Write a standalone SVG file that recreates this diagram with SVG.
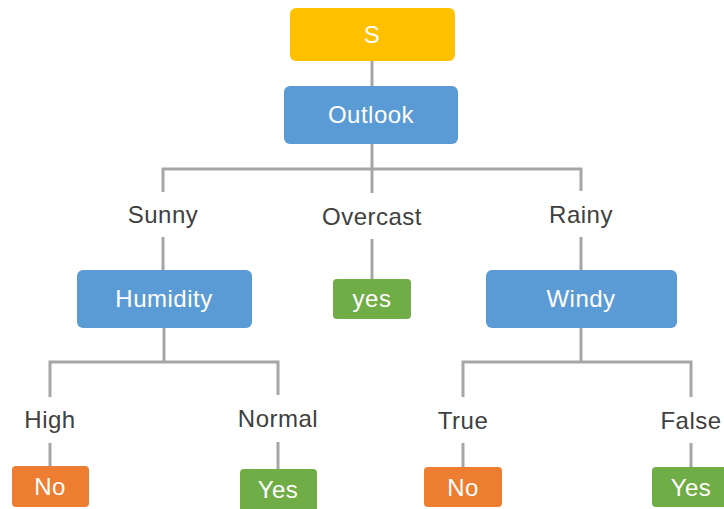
<svg xmlns="http://www.w3.org/2000/svg" width="724" height="509" viewBox="0 0 724 509">
<style>
.ln{stroke:#A6A6A6;stroke-width:3;fill:none}
.lbl{font-family:"Liberation Sans",Arial,sans-serif;font-size:24px;fill:#404040;text-anchor:middle;letter-spacing:0.5px}
.bt{font-family:"Liberation Sans",Arial,sans-serif;font-size:24px;fill:#FFFFFF;text-anchor:middle;letter-spacing:0.5px}
.yel{fill:#FFC000}.blu{fill:#5B9BD5}.grn{fill:#70AD47}.org{fill:#ED7D31}
</style>
<rect width="724" height="509" fill="#FFFFFF"/>
<g id="connectors">
<path class="ln" d="M372 61V86"/>
<path class="ln" d="M372 144V193"/>
<path class="ln" d="M163 192V169H581V191"/>
<path class="ln" d="M163 237V270"/>
<path class="ln" d="M372 239V279"/>
<path class="ln" d="M581 237V270"/>
<path class="ln" d="M164 328V362"/>
<path class="ln" d="M50 397V362H278V395"/>
<path class="ln" d="M50 443V466"/>
<path class="ln" d="M278 442V469"/>
<path class="ln" d="M581 328V362"/>
<path class="ln" d="M463 397V362H691V397"/>
<path class="ln" d="M463 443V467"/>
<path class="ln" d="M691 443V467"/>
</g>
<g id="S"><rect class="yel" x="290" y="8" width="165" height="53" rx="6"/><text class="bt" x="372" y="43">S</text></g>
<g id="outlook"><rect class="blu" x="284" y="86" width="174" height="58" rx="6"/><text class="bt" x="371" y="123">Outlook</text></g>
<g id="sunny"><text class="lbl" x="163" y="223">Sunny</text></g>
<g id="overcast"><text class="lbl" x="372" y="225">Overcast</text></g>
<g id="rainy"><text class="lbl" x="581" y="223">Rainy</text></g>
<g id="humidity"><rect class="blu" x="77" y="270" width="175" height="58" rx="6"/><text class="bt" x="164" y="307">Humidity</text></g>
<g id="yes-overcast"><rect class="grn" x="333" y="279" width="78" height="40" rx="4"/><text class="bt" x="372" y="307">yes</text></g>
<g id="windy"><rect class="blu" x="486" y="270" width="191" height="58" rx="6"/><text class="bt" x="581" y="307">Windy</text></g>
<g id="high"><text class="lbl" x="50" y="428">High</text></g>
<g id="normal"><text class="lbl" x="278" y="427">Normal</text></g>
<g id="true"><text class="lbl" x="463" y="429">True</text></g>
<g id="false"><text class="lbl" x="691" y="429">False</text></g>
<g id="no-high"><rect class="org" x="12" y="466" width="77" height="41" rx="4"/><text class="bt" x="50" y="495">No</text></g>
<g id="yes-normal"><rect class="grn" x="240" y="469" width="77" height="44" rx="4"/><text class="bt" x="278" y="498">Yes</text></g>
<g id="no-true"><rect class="org" x="424" y="467" width="78" height="40" rx="4"/><text class="bt" x="463" y="496">No</text></g>
<g id="yes-false"><rect class="grn" x="652" y="467" width="80" height="40" rx="4"/><text class="bt" x="691" y="496">Yes</text></g>
</svg>
